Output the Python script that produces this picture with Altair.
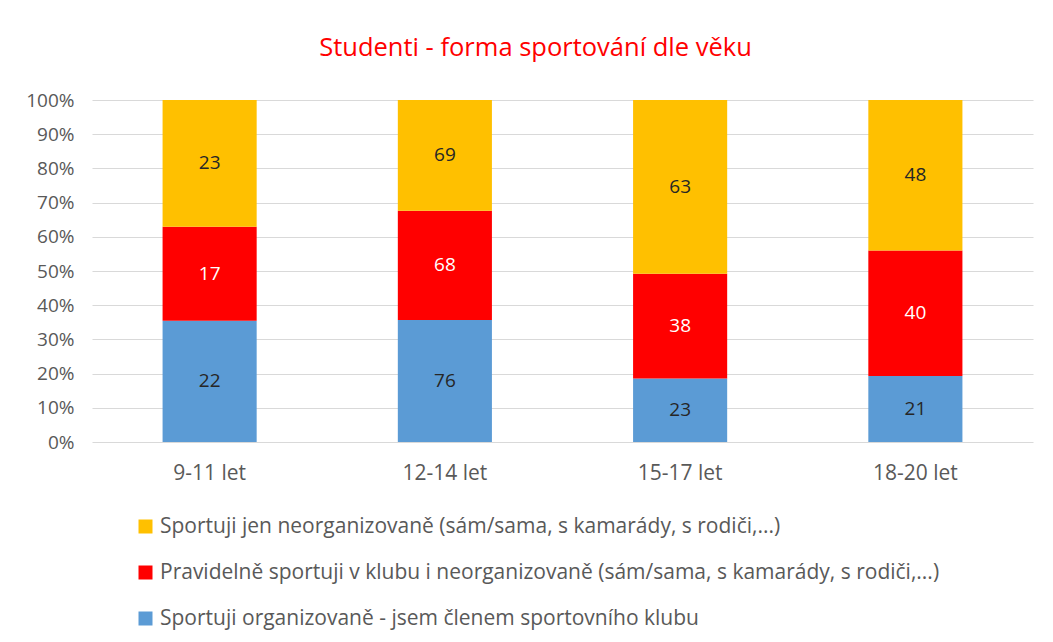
import altair as alt
import pandas as pd

ages = ["9-11 let", "12-14 let", "15-17 let", "18-20 let"]
series = [
    "Sportuji organizovaně - jsem členem sportovního klubu",
    "Pravidelně sportuji v klubu i neorganizovaně (sám/sama, s kamarády, s rodiči,...)",
    "Sportuji jen neorganizovaně (sám/sama, s kamarády, s rodiči,...)",
]
blue_vals = [22, 76, 23, 21]
red_vals = [17, 68, 38, 40]
yellow_vals = [23, 69, 63, 48]
colors = ["#5B9BD5", "#FF0000", "#FFC000"]
label_colors = ["#262626", "#FFFFFF", "#262626"]
y_ticks = [0, 0.1, 0.2, 0.3, 0.4, 0.5, 0.6, 0.7, 0.8, 0.9, 1.0]

rows = []
for si, vals in enumerate([blue_vals, red_vals, yellow_vals]):
    for a, v in zip(ages, vals):
        rows.append({"age": a, "series": series[si], "value": v, "ord": si,
                     "lc": label_colors[si]})
df = pd.DataFrame(rows)

FONT = "Open Sans"
GRAY = "#595959"

base = alt.Chart(df).transform_stack(
    stack="value", groupby=["age"], as_=["v0", "v1"], offset="normalize",
    sort=[alt.SortField("ord", order="ascending")]
).transform_calculate(mid="(datum.v0 + datum.v1) / 2")

x_axis = alt.Axis(labelAngle=0, labelFontSize=21, labelColor=GRAY, labelFont=FONT,
                  ticks=False, domain=False, labelPadding=20, title=None)
y_axis = alt.Axis(format=".0%", values=y_ticks, labelOverlap=False,
                  labelFontSize=19, labelColor=GRAY, labelFont=FONT,
                  ticks=False, domain=False, labelPadding=18, title=None,
                  gridColor="#D9D9D9", gridWidth=1.2)
x_scale = alt.Scale(paddingInner=0.6, paddingOuter=0.3)
y_scale = alt.Scale(domain=[0, 1])

bars = base.mark_bar().encode(
    x=alt.X("age:N", sort=ages, title=None, scale=x_scale, axis=x_axis),
    y=alt.Y("v0:Q", title=None, scale=y_scale, axis=y_axis),
    y2="v1:Q",
    color=alt.Color("series:N", sort=list(reversed(series)),
                    scale=alt.Scale(domain=series, range=colors),
                    legend=alt.Legend(title=None, orient="none", legendX=43, legendY=416,
                                      direction="vertical", symbolType="square",
                                      symbolSize=196, symbolStrokeWidth=0,
                                      labelFontSize=21, labelColor=GRAY, labelFont=FONT,
                                      labelLimit=900, rowPadding=24, labelOffset=4,
                                      values=list(reversed(series)))),
)

labels = base.mark_text(fontSize=19, font=FONT).encode(
    x=alt.X("age:N", sort=ages, title=None, scale=x_scale, axis=x_axis),
    y=alt.Y("mid:Q", title=None, scale=y_scale, axis=y_axis),
    text=alt.Text("value:Q"),
    color=alt.Color("lc:N", scale=None),
)

chart = alt.layer(bars, labels).properties(
    width=941, height=342,
    background="white",
    title=alt.TitleParams("Studenti - forma sportování dle věku", color="#FF0000",
                          fontSize=25.5, font=FONT, fontWeight="normal",
                          anchor="middle", offset=30, dx=-27),
    autosize=alt.AutoSizeParams(type="none"),
    padding={"left": 84, "top": 92, "right": 8, "bottom": 190},
).configure_view(stroke=None)

chart.save("out.html", embed_options={"renderer": "svg", "actions": False})
